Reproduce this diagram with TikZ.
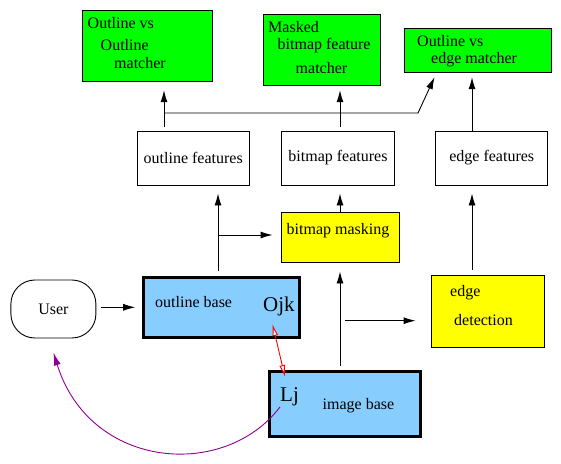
\documentclass[tikz,border=0pt]{standalone}
\usepackage{fontspec}
\setmainfont{Liberation Serif}
\usetikzlibrary{arrows.meta}
\definecolor{fgreen}{RGB}{0,255,0}
\definecolor{fyellow}{RGB}{255,255,0}
\definecolor{fblue}{RGB}{135,206,255}
\definecolor{fpurple}{RGB}{144,0,144}
\begin{document}
\begin{tikzpicture}
        [x=1pt,y=-1pt,every node/.style={inner sep=0pt, font=\rmfamily\fontsize{16}{19}\selectfont},
         box/.style={draw, line width=0.9pt},
         base/.style={draw, line width=3pt, fill=fblue},
         lbl/.style={anchor=west},
         big/.style={anchor=west, font=\rmfamily\fontsize{21}{24}\selectfont},
         arr/.style={line width=0.9pt, -{Latex[length=12pt,width=7pt]}}]
      \useasboundingbox (0,0) rectangle (561,463);

      % matchers
      \node[box, fill=fgreen, minimum width=130pt, minimum height=71pt] (om) at (147.75,46.25) {};
      \node[box, fill=fgreen, minimum width=117pt, minimum height=71pt] (bm) at (322,50.25) {};
      \node[box, fill=fgreen, minimum width=147pt, minimum height=44pt] (em) at (477.5,50.75) {};
      \node[lbl] (om1) at (87.5,23) {Outline vs};
      \node[lbl] (om2) at (100.5,45.5) {Outline};
      \node[lbl] (om3) at (114,63) {matcher};
      \node[lbl] (bm1) at (268,27.5) {Masked};
      \node[lbl] (bm2) at (277.5,46) {bitmap feature};
      \node[lbl] (bm3) at (295.5,68) {matcher};
      \node[lbl] (em1) at (417,41.5) {Outline vs};
      \node[lbl] (em2) at (431,60) {edge matcher};

      % features
      \node[box, minimum width=112pt, minimum height=54pt] (of) at (193.25,158) {outline features};
      \node[box, minimum width=113pt, minimum height=54pt] (bf) at (338,158) {bitmap features};
      \node[box, minimum width=112pt, minimum height=54pt] (ef) at (491.75,158) {edge features};

      \node[box, fill=fyellow, minimum width=118pt, minimum height=50pt] (mask) at (340.5,237) {};
      \node[lbl] (maskt) at (286.5,230.5) {bitmap masking};

      \node[box, rounded corners=24pt, minimum width=85pt, minimum height=58pt] (user) at (53.4,309) {User};

      \node[base, minimum width=156pt, minimum height=60pt] (ob) at (221.2,307.3) {};
      \node[lbl] (obt) at (155,302) {outline base};
      \node[big] (ojk) at (263,306) {Ojk};

      \node[box, fill=fyellow, minimum width=113pt, minimum height=72pt] (ed) at (487.5,311) {};
      \node[lbl] (ed1) at (450,293) {edge};
      \node[lbl] (ed2) at (454,320) {detection};

      \node[base, minimum width=151pt, minimum height=65pt] (ib) at (345,403.8) {};
      \node[big] (lj) at (280,396.5) {Lj};
      \node[lbl] (ibt) at (322.5,406) {image base};

      \coordinate (j1) at (164,113);
      \coordinate (j2) at (418,113);
      \coordinate (j3) at (218,235);
      \coordinate (j4) at (345,320.7);
      \coordinate (r1) at (272.5,324);
      \coordinate (r2) at (285,377);

      % upper arrows
      \draw[arr, shorten <=4pt, shorten >=8pt] ([xshift=-29.25pt]of.north) -- ([xshift=-29.25pt]of.north |- om.south);
      \draw[arr] (j1) -- (j2) -- ([xshift=-43pt,yshift=-4pt]em.south);
      \draw[arr, shorten <=4pt, shorten >=4pt] ([xshift=2pt]bf.north) -- ([xshift=2pt]bf.north |- bm.south);
      \draw[arr, shorten >=4pt] ([xshift=-19.75pt]ef.north) -- ([xshift=-19.75pt]ef.north |- em.south);

      % lower arrows
      \draw[arr, shorten <=5pt, shorten >=8pt] ([xshift=-3.2pt]ob.north) -- ([xshift=-3.2pt]ob.north |- of.south);
      \draw[arr, shorten >=8.5pt] (j3) -- (j3 -| mask.west);
      \draw[arr, shorten >=8pt] ([xshift=-0.5pt]mask.north) -- ([xshift=-0.5pt]mask.north |- bf.south);
      \draw[arr, shorten <=4pt, shorten >=9pt] ([xshift=-5pt]ib.north) -- ([xshift=-5pt]ib.north |- mask.south);
      \draw[arr, shorten >=15pt] (j4) -- (j4 -| ed.west);
      \draw[arr, shorten <=4.5pt, shorten >=6.5pt] (user.east |- ob.west) -- (ob.west);
      \draw[arr, shorten <=5pt, shorten >=8pt] ([xshift=-15.5pt]ed.north) -- ([xshift=-15.5pt]ed.north |- ef.south);

      % links
      \draw[red, line width=0.9pt, {Latex[open,length=12pt,width=6pt,fill=white]}-{Latex[open,length=12pt,width=6pt,fill=white]}] (r1) -- (r2);
      \draw[fpurple, line width=0.9pt, -{Latex[length=13pt,width=7pt]}] ([yshift=-1pt]lj.south west) .. controls (225,480) and (90,470) .. ([yshift=-14pt]user.south);
    \end{tikzpicture}
\end{document}
